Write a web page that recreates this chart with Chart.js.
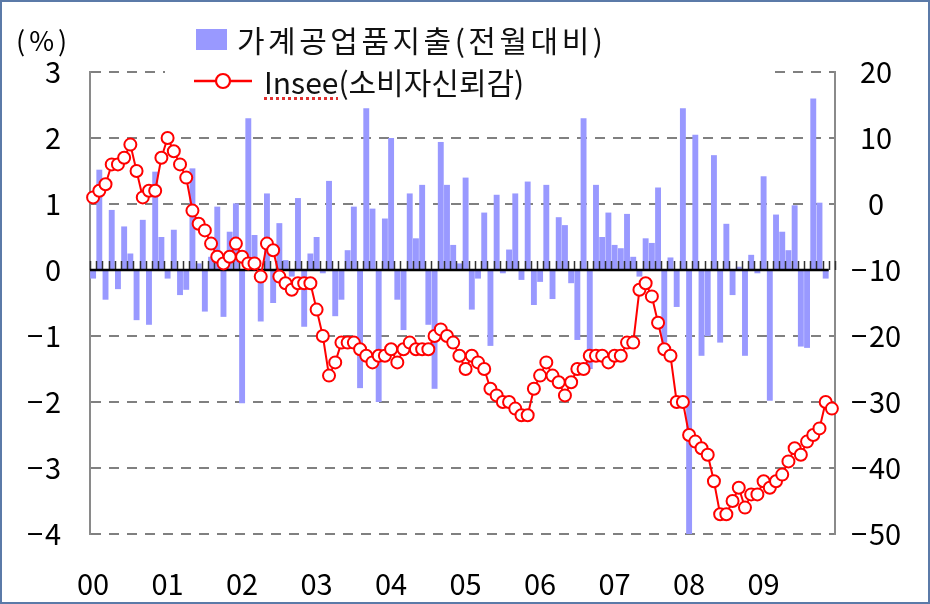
<!DOCTYPE html>
<html>
<head>
<meta charset="utf-8">
<script src="https://cdn.jsdelivr.net/npm/chart.js@4.4.0/dist/chart.umd.min.js"></script>
<style>
  body { margin: 0; background: #fff; }
  #wrap { position: relative; width: 930px; height: 604px; }
  #frame { position: absolute; left: 0; top: 0; width: 930px; height: 604px; box-sizing: border-box; border: 2px solid #5b7aa8; pointer-events: none; }
  #unit { position: absolute; left: 16px; top: 20px; font: 27px "Noto Sans CJK KR", sans-serif; letter-spacing: 4px; color: #000; }
  #legend { position: absolute; left: 165px; top: 18px; width: 610px; height: 82px; background: #fff; font: 30px "Noto Sans CJK KR", sans-serif; color: #111; }
  .item { position: absolute; display: flex; align-items: center; height: 40px; white-space: nowrap; }
  .swatch { display: inline-block; width: 31px; height: 21px; background: #9999ff; margin-right: 10px; }
  .wide { letter-spacing: 3.5px; }
  .wavy { text-decoration: underline dotted #e03030; text-underline-offset: 3px; }
</style>
</head>
<body>
<div id="wrap">
  <canvas id="chart" width="930" height="604"></canvas>
  <div id="unit">(%)</div>
  <div id="legend">
    <div class="item" style="left:31px; top:1px;"><span class="swatch"></span><span class="wide">가계공업품지출(전월대비)</span></div>
    <div class="item" style="left:29px; top:43px;">
      <svg width="58" height="22" style="margin-right:12px"><line x1="0" y1="11" x2="58" y2="11" stroke="#ff0000" stroke-width="2.5"/><circle cx="29" cy="11" r="7" fill="#fff" stroke="#ff0000" stroke-width="2.2"/></svg>
      <span><span class="wavy">Insee</span>(소비자신뢰감)</span>
    </div>
  </div>
  <div id="frame"></div>
</div>
<script>
// monthly, Jan 2000 - Dec 2009
const years = ['00', '01', '02', '03', '04', '05', '06', '07', '08', '09'];

// 가계공업품지출 전월대비 (%)
const spendMoM = [
  -0.13, 1.52, -0.45, 0.91, -0.29, 0.66, 0.25, -0.76, 0.76, -0.83, 1.49, 0.5,
  -0.13, 0.61, -0.38, -0.3, 1.54, 0.1, -0.63, 0.2, 0.96, -0.71, 0.58, 1.01,
  -2.02, 2.3, 0.53, -0.78, 1.16, -0.5, 0.71, 0.15, -0.1, 1.09, -0.86, 0.25,
  0.5, -0.05, 1.35, -0.7, -0.45, 0.3, 0.96, -1.79, 2.45, 0.93, -2.0, 0.78,
  2.0, -0.45, -0.91, 1.16, 0.48, 1.29, -0.83, -1.8, 1.94, 1.29, 0.38, 0.1,
  1.4, -0.6, -0.13, 0.87, -1.15, 1.14, -0.05, 0.31, 1.16, -0.15, 1.34, -0.53,
  -0.18, 1.29, -0.44, 0.8, 0.68, -0.2, -1.06, 2.3, -1.5, 1.29, 0.5, 0.87,
  0.38, 0.33, 0.85, 0.2, -0.1, 0.48, 0.41, 1.25, -1.1, 0.19, -0.56, 2.45,
  -4.07, 2.05, -1.3, -1.0, 1.74, -1.1, 0.7, -0.38, 0.05, -1.3, 0.23, -0.05,
  1.42, -1.98, 0.84, 0.58, 0.3, 0.98, -1.16, -1.18, 2.6, 1.02, -0.13, null
];

// Insee 소비자신뢰감 (우축)
const inseeConf = [
  1, 2, 3, 6, 6, 7, 9, 5, 1, 2, 2, 7,
  10, 8, 6, 4, -1, -3, -4, -6, -8, -9, -8, -6,
  -8, -9, -9, -11, -6, -7, -11, -12, -13, -12, -12, -12,
  -16, -20, -26, -24, -21, -21, -21, -22, -23, -24, -23, -23,
  -22, -24, -22, -21, -22, -22, -22, -20, -19, -20, -21, -23,
  -25, -23, -24, -25, -28, -29, -30, -30, -31, -32, -32, -28,
  -26, -24, -26, -27, -29, -27, -25, -25, -23, -23, -23, -24,
  -23, -23, -21, -21, -13, -12, -14, -18, -22, -23, -30, -30,
  -35, -36, -37, -38, -42, -47, -47, -45, -43, -46, -44, -44,
  -42, -43, -42, -41, -39, -37, -38, -36, -35, -34, -30, -31
];

const labels = [];
years.forEach(yy => {
  for (let m = 1; m <= 12; m++) labels.push(yy + '-' + m);
});

const minus = v => (v < 0 ? '\u2212\u200a' + Math.abs(v) : '' + v);

// black zero line with small category ticks, drawn over the bars
const zeroAxis = {
  id: 'zeroAxis',
  afterDatasetDraw(chart, args) {
    if (args.index !== 0) return;
    const { ctx, chartArea, scales: { x, y } } = chart;
    const y0 = y.getPixelForValue(0);
    const step = x.getPixelForValue(1) - x.getPixelForValue(0);
    const start = x.getPixelForValue(0) - step / 2;
    ctx.save();
    ctx.strokeStyle = '#333';
    ctx.lineWidth = 1.5;
    ctx.beginPath();
    for (let i = 0; i <= labels.length; i++) {
      const px = Math.round(start + i * step) + 0.5;
      ctx.moveTo(px, y0);
      ctx.lineTo(px, y0 - 9);
    }
    ctx.stroke();
    ctx.strokeStyle = '#000';
    ctx.lineWidth = 2.5;
    ctx.beginPath();
    ctx.moveTo(chartArea.left, y0);
    ctx.lineTo(x.getPixelForValue(labels.length - 2) + step / 2, y0);
    ctx.stroke();
    ctx.restore();
  }
};

const tickFont = { family: '"Noto Sans CJK KR", sans-serif', size: 29 };

new Chart(document.getElementById('chart'), {
  type: 'bar',
  data: {
    labels: labels,
    datasets: [
      {
        label: '가계공업품지출(전월대비)',
        data: spendMoM,
        yAxisID: 'y',
        backgroundColor: '#9999ff',
        barPercentage: 0.95,
        categoryPercentage: 1.0,
        order: 2
      },
      {
        type: 'line',
        label: 'Insee(소비자신뢰감)',
        data: inseeConf,
        yAxisID: 'y2',
        borderColor: '#ff0000',
        borderWidth: 2,
        pointRadius: 6,
        pointBorderWidth: 2,
        pointBackgroundColor: '#ffffff',
        pointBorderColor: '#ff0000',
        tension: 0,
        order: 1
      }
    ]
  },
  options: {
    responsive: false,
    animation: false,
    devicePixelRatio: 1,
    layout: { padding: { top: 72, left: 0, right: 0, bottom: 0 } },
    plugins: { legend: { display: false }, tooltip: { enabled: false } },
    scales: {
      x: {
        grid: { display: false },
        border: { display: false },
        ticks: {
          autoSkip: false,
          maxRotation: 0,
          padding: 25,
          color: '#000',
          font: tickFont,
          callback: (v, i) => (i % 12 === 0 ? years[i / 12] : null)
        },
        afterFit: s => { s.height = 70; }
      },
      y: {
        position: 'left',
        min: -4,
        max: 3,
        ticks: { stepSize: 1, padding: 29, color: '#000', font: tickFont, callback: minus },
        grid: {
          drawTicks: false,
          lineWidth: 2,
          color: c => (c.tick.value === 0 ? 'rgba(0,0,0,0)' : '#808080')
        },
        border: { display: true, color: '#8a8a8a', width: 2, dash: [10, 8] },
        afterFit: s => { s.width = 90; }
      },
      y2: {
        position: 'right',
        min: -50,
        max: 20,
        ticks: { stepSize: 10, padding: 16, crossAlign: 'center', color: '#000', font: tickFont, callback: minus },
        grid: { display: false, drawTicks: false },
        border: { display: true, color: '#8a8a8a', width: 2 },
        afterFit: s => { s.width = 95; }
      }
    }
  },
  plugins: [zeroAxis]
});
</script>
</body>
</html>
